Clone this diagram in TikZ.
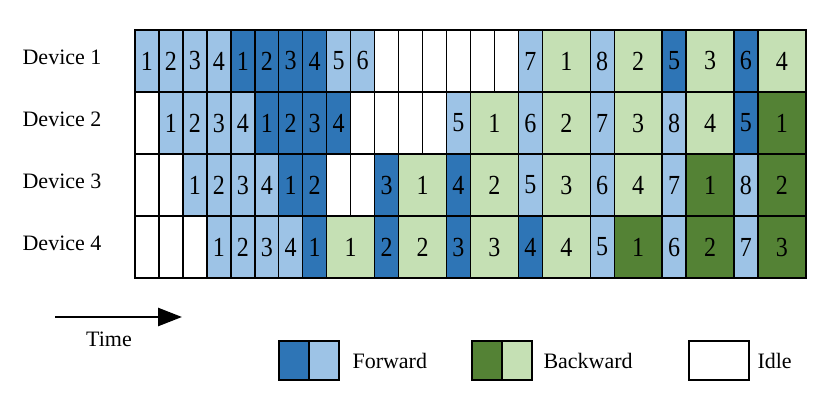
\documentclass[tikz,border=0pt]{standalone}
\usepackage{fontspec}
\setmainfont{Liberation Serif}
\usepackage{graphicx}
\usetikzlibrary{arrows.meta,positioning}
\definecolor{fwdlight}{HTML}{9DC3E6}
\definecolor{fwddark}{HTML}{2E75B6}
\definecolor{bwdlight}{HTML}{C5E0B4}
\definecolor{bwddark}{HTML}{548235}
\newcommand{\dig}[1]{\scalebox{1}[1.15]{#1}}
\begin{document}
\begin{tikzpicture}[x=1pt, y=-1pt,
  cell/.style={draw=black, line width=1.4pt, inner sep=0pt, outer sep=0pt, minimum height=62pt, anchor=north west, font=\fontsize{24}{24}\selectfont},
  legbox/.style={draw=black, line width=1.6pt, inner sep=0pt, outer sep=0pt, minimum height=39pt, minimum width=30pt, anchor=north west},
  lbl/.style={font=\fontsize{22}{26}\selectfont}]
\useasboundingbox (0,0) rectangle (830,395);
\def\unitw{23.96}
%
% Device 1
\node[lbl] (dev1) at (62,57.5) {Device 1};
\foreach \s/\w/\c/\lab in {0/1/fwdlight/1, 1/1/fwdlight/2, 2/1/fwdlight/3, 3/1/fwdlight/4, 4/1/fwddark/1, 5/1/fwddark/2, 6/1/fwddark/3, 7/1/fwddark/4, 8/1/fwdlight/5, 9/1/fwdlight/6, 10/1/white/{}, 11/1/white/{}, 12/1/white/{}, 13/1/white/{}, 14/1/white/{}, 15/1/white/{}, 16/1/fwdlight/7, 17/2/bwdlight/1, 19/1/fwdlight/8, 20/2/bwdlight/2, 22/1/fwddark/5, 23/2/bwdlight/3, 25/1/fwddark/6, 26/2/bwdlight/4}
  \node[cell, fill=\c, minimum width={\w*\unitw pt}] (r1-\s) at (135+\s*\unitw, 30) {\dig{\lab}};
% Device 2
\node[lbl] (dev2) at (62,119.5) {Device 2};
\foreach \s/\w/\c/\lab in {0/1/white/{}, 1/1/fwdlight/1, 2/1/fwdlight/2, 3/1/fwdlight/3, 4/1/fwdlight/4, 5/1/fwddark/1, 6/1/fwddark/2, 7/1/fwddark/3, 8/1/fwddark/4, 9/1/white/{}, 10/1/white/{}, 11/1/white/{}, 12/1/white/{}, 13/1/fwdlight/5, 14/2/bwdlight/1, 16/1/fwdlight/6, 17/2/bwdlight/2, 19/1/fwdlight/7, 20/2/bwdlight/3, 22/1/fwdlight/8, 23/2/bwdlight/4, 25/1/fwddark/5, 26/2/bwddark/1}
  \node[cell, fill=\c, minimum width={\w*\unitw pt}] (r2-\s) at (135+\s*\unitw, 92) {\dig{\lab}};
% Device 3
\node[lbl] (dev3) at (62,181.5) {Device 3};
\foreach \s/\w/\c/\lab in {0/1/white/{}, 1/1/white/{}, 2/1/fwdlight/1, 3/1/fwdlight/2, 4/1/fwdlight/3, 5/1/fwdlight/4, 6/1/fwddark/1, 7/1/fwddark/2, 8/1/white/{}, 9/1/white/{}, 10/1/fwddark/3, 11/2/bwdlight/1, 13/1/fwddark/4, 14/2/bwdlight/2, 16/1/fwdlight/5, 17/2/bwdlight/3, 19/1/fwdlight/6, 20/2/bwdlight/4, 22/1/fwdlight/7, 23/2/bwddark/1, 25/1/fwdlight/8, 26/2/bwddark/2}
  \node[cell, fill=\c, minimum width={\w*\unitw pt}] (r3-\s) at (135+\s*\unitw, 154) {\dig{\lab}};
% Device 4
\node[lbl] (dev4) at (62,243.5) {Device 4};
\foreach \s/\w/\c/\lab in {0/1/white/{}, 1/1/white/{}, 2/1/white/{}, 3/1/fwdlight/1, 4/1/fwdlight/2, 5/1/fwdlight/3, 6/1/fwdlight/4, 7/1/fwddark/1, 8/2/bwdlight/1, 10/1/fwddark/2, 11/2/bwdlight/2, 13/1/fwddark/3, 14/2/bwdlight/3, 16/1/fwddark/4, 17/2/bwdlight/4, 19/1/fwdlight/5, 20/2/bwddark/1, 22/1/fwdlight/6, 23/2/bwddark/2, 25/1/fwdlight/7, 26/2/bwddark/3}
  \node[cell, fill=\c, minimum width={\w*\unitw pt}] (r4-\s) at (135+\s*\unitw, 216) {\dig{\lab}};
%
% Time arrow
\coordinate (tstart) at (55,317);
\coordinate (tend) at (182,317);
\draw[line width=2.6pt, -{Triangle[length=24pt,width=18pt]}] (tstart) -- (tend);
\node[lbl] (time) at (109,339.5) {Time};
%
% Legend
\node[legbox, fill=fwddark] (fd) at (279,341) {};
\node[legbox, fill=fwdlight, anchor=west, right=0pt of fd] (fl) {};
\node[lbl, right=10pt of fl] (fwdtxt) {Forward};
\node[legbox, fill=bwddark] (bd) at (472,341) {};
\node[legbox, fill=bwdlight, anchor=west, right=0pt of bd] (bl) {};
\node[lbl, right=8pt of bl] (bwdtxt) {Backward};
\node[legbox, fill=white, minimum width=60pt] (idl) at (689,341) {};
\node[lbl, right=5pt of idl] (idltxt) {Idle};
\end{tikzpicture}
\end{document}
